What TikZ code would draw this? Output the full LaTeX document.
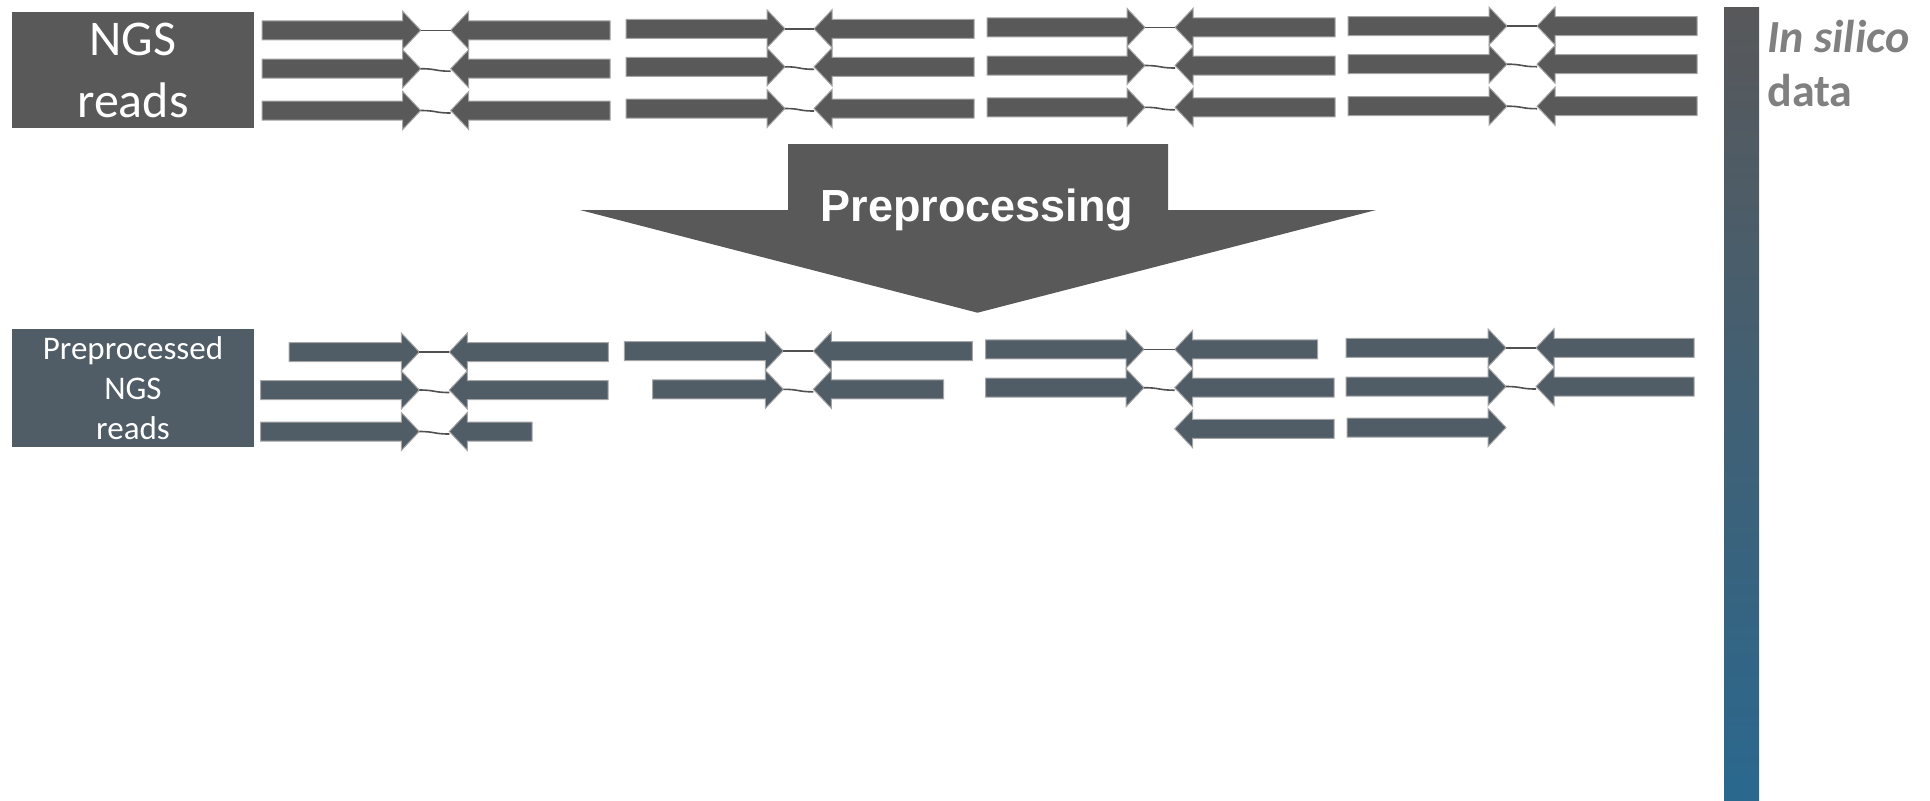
\documentclass[tikz,border=0pt]{standalone}
\usepackage{fontspec}
\setmainfont{Carlito}
\newfontfamily\headfont{Liberation Sans}
\usetikzlibrary{calc}

\definecolor{readgray}{RGB}{89,89,89}
\definecolor{readslate}{RGB}{80,92,102}
\definecolor{readedge}{RGB}{165,165,165}
\definecolor{linkgray}{RGB}{80,80,80}
\definecolor{sidegray}{RGB}{128,128,128}
\definecolor{bartop}{RGB}{88,88,90}
\definecolor{barmid}{RGB}{76,92,122}
\definecolor{barbot}{RGB}{42,104,142}

\tikzset{
  rawread/.style={fill=readgray, draw=readedge, line width=0.5pt},
  cleanread/.style={fill=readslate, draw=readedge, line width=0.5pt},
  pairlink/.style={draw=linkgray, line width=0.8pt},
  labelbox/.style={inner sep=0pt, text=white, align=center},
  sidetext/.style={anchor=base west, text=sidegray, inner sep=0pt,
    font=\fontsize{23pt}{28pt}\selectfont\bfseries},
}

% forward read: style, name of tip, shaft start x, tip x, centre y
\newcommand\fwdread[5]{%
  \path[#1] (#3,{#5-9.5}) -- ({#4-18},{#5-9.5}) -- ({#4-18},{#5-19})
    -- (#4,#5) -- ({#4-18},{#5+19}) -- ({#4-18},{#5+9.5})
    -- (#3,{#5+9.5}) -- cycle;
  \coordinate (#2) at (#4,#5);}
% reverse read: style, name of tip, tip x, shaft end x, centre y
\newcommand\revread[5]{%
  \path[#1] (#4,{#5-9.5}) -- ({#3+18},{#5-9.5}) -- ({#3+18},{#5-19})
    -- (#3,#5) -- ({#3+18},{#5+19}) -- ({#3+18},{#5+9.5})
    -- (#4,{#5+9.5}) -- cycle;
  \coordinate (#2) at (#3,#5);}
% links between the two reads of a pair
\newcommand\straightlink[2]{\draw[pairlink] (#1) -- (#2);}
\newcommand\wavylink[2]{\draw[pairlink] (#1) .. controls ($(#1)+(16,0)$)
  and ($(#2)+(-16,2.5)$) .. ($(#2)+(0,2.5)$);}

\begin{document}
\begin{tikzpicture}[x=0.5pt,y=-0.5pt]
\useasboundingbox (0,0) rectangle (1930,800);

% side bar
\shade[top color=bartop, middle color=barmid, bottom color=barbot]
  (1724,7) rectangle (1759,800);
\node[sidetext] (side1) at (1767,52) {\itshape In silico};
\node[sidetext] (side2) at (1767,106) {data};

% labels
\node[labelbox, fill=readgray, minimum width=121pt, minimum height=58pt,
  font=\fontsize{25pt}{31pt}\selectfont] (raw) at (133,70) {NGS\\reads};
\node[labelbox, fill=readslate, minimum width=121pt, minimum height=59pt,
  font=\fontsize{16.5pt}{20pt}\selectfont] (clean) at (133,388)
  {Preprocessed\\NGS\\reads};

% preprocessing arrow
\fill[readgray] (788,144) -- (1168,144) -- (1168,210) -- (1376,210)
  -- (977.5,312.7) -- (580,210) -- (788,210) -- cycle;
\node[anchor=base, text=white, inner sep=0pt,
  font=\headfont\fontsize{22.5pt}{27pt}\selectfont\bfseries] (prep)
  at (977,221) {Preprocessing};

% raw read pairs
\fwdread{rawread}{a11}{262}{420.7}{30.3}  \revread{rawread}{b11}{450.7}{610}{30.3}
\fwdread{rawread}{a12}{262}{420.7}{68.7}  \revread{rawread}{b12}{450.7}{610}{68.7}
\fwdread{rawread}{a13}{262}{420.7}{110.5} \revread{rawread}{b13}{450.7}{610}{110.5}
\fwdread{rawread}{a21}{626}{785}{28.8}    \revread{rawread}{b21}{814}{974}{28.8}
\fwdread{rawread}{a22}{626}{785}{66.8}    \revread{rawread}{b22}{814}{974}{66.8}
\fwdread{rawread}{a23}{626}{785}{108.5}   \revread{rawread}{b23}{814}{974}{108.5}
\fwdread{rawread}{a31}{987}{1145}{27.4}   \revread{rawread}{b31}{1175}{1335}{27.4}
\fwdread{rawread}{a32}{987}{1145}{65.5}   \revread{rawread}{b32}{1175}{1335}{65.5}
\fwdread{rawread}{a33}{987}{1145}{107.3}  \revread{rawread}{b33}{1175}{1335}{107.3}
\fwdread{rawread}{a41}{1348}{1507}{26}    \revread{rawread}{b41}{1537}{1697}{26}
\fwdread{rawread}{a42}{1348}{1507}{64.2}  \revread{rawread}{b42}{1537}{1697}{64.2}
\fwdread{rawread}{a43}{1348}{1507}{106.2} \revread{rawread}{b43}{1537}{1697}{106.2}
\straightlink{a11}{b11} \wavylink{a12}{b12} \wavylink{a13}{b13}
\straightlink{a21}{b21} \wavylink{a22}{b22} \wavylink{a23}{b23}
\straightlink{a31}{b31} \wavylink{a32}{b32} \wavylink{a33}{b33}
\straightlink{a41}{b41} \wavylink{a42}{b42} \wavylink{a43}{b43}

% preprocessed read pairs
\fwdread{cleanread}{c11}{289}{419.3}{352}   \revread{cleanread}{d11}{449.3}{608.3}{352}
\fwdread{cleanread}{c12}{260.7}{419.3}{390} \revread{cleanread}{d12}{449.3}{608}{390}
\fwdread{cleanread}{c13}{260.7}{419.3}{431.5} \revread{cleanread}{d13}{449.3}{532}{431.5}
\fwdread{cleanread}{c21}{624.3}{783.3}{351} \revread{cleanread}{d21}{813.3}{972.3}{351}
\fwdread{cleanread}{c22}{652.7}{783.3}{389.3} \revread{cleanread}{d22}{813.3}{943.7}{389.3}
\fwdread{cleanread}{c31}{985.7}{1144}{349.3} \revread{cleanread}{d31}{1174.7}{1317.7}{349.3}
\fwdread{cleanread}{c32}{985.7}{1144}{387.7} \revread{cleanread}{d32}{1174.7}{1334}{387.7}
\revread{cleanread}{d33}{1174.7}{1334}{428.8}
\fwdread{cleanread}{c41}{1346}{1506}{347.8} \revread{cleanread}{d41}{1536}{1694}{347.8}
\fwdread{cleanread}{c42}{1346}{1506}{386.5} \revread{cleanread}{d42}{1536}{1694}{386.5}
\fwdread{cleanread}{c43}{1347}{1506}{427.5}
\straightlink{c11}{d11} \wavylink{c12}{d12} \wavylink{c13}{d13}
\straightlink{c21}{d21} \wavylink{c22}{d22}
\straightlink{c31}{d31} \wavylink{c32}{d32}
\straightlink{c41}{d41} \wavylink{c42}{d42}
\end{tikzpicture}
\end{document}
